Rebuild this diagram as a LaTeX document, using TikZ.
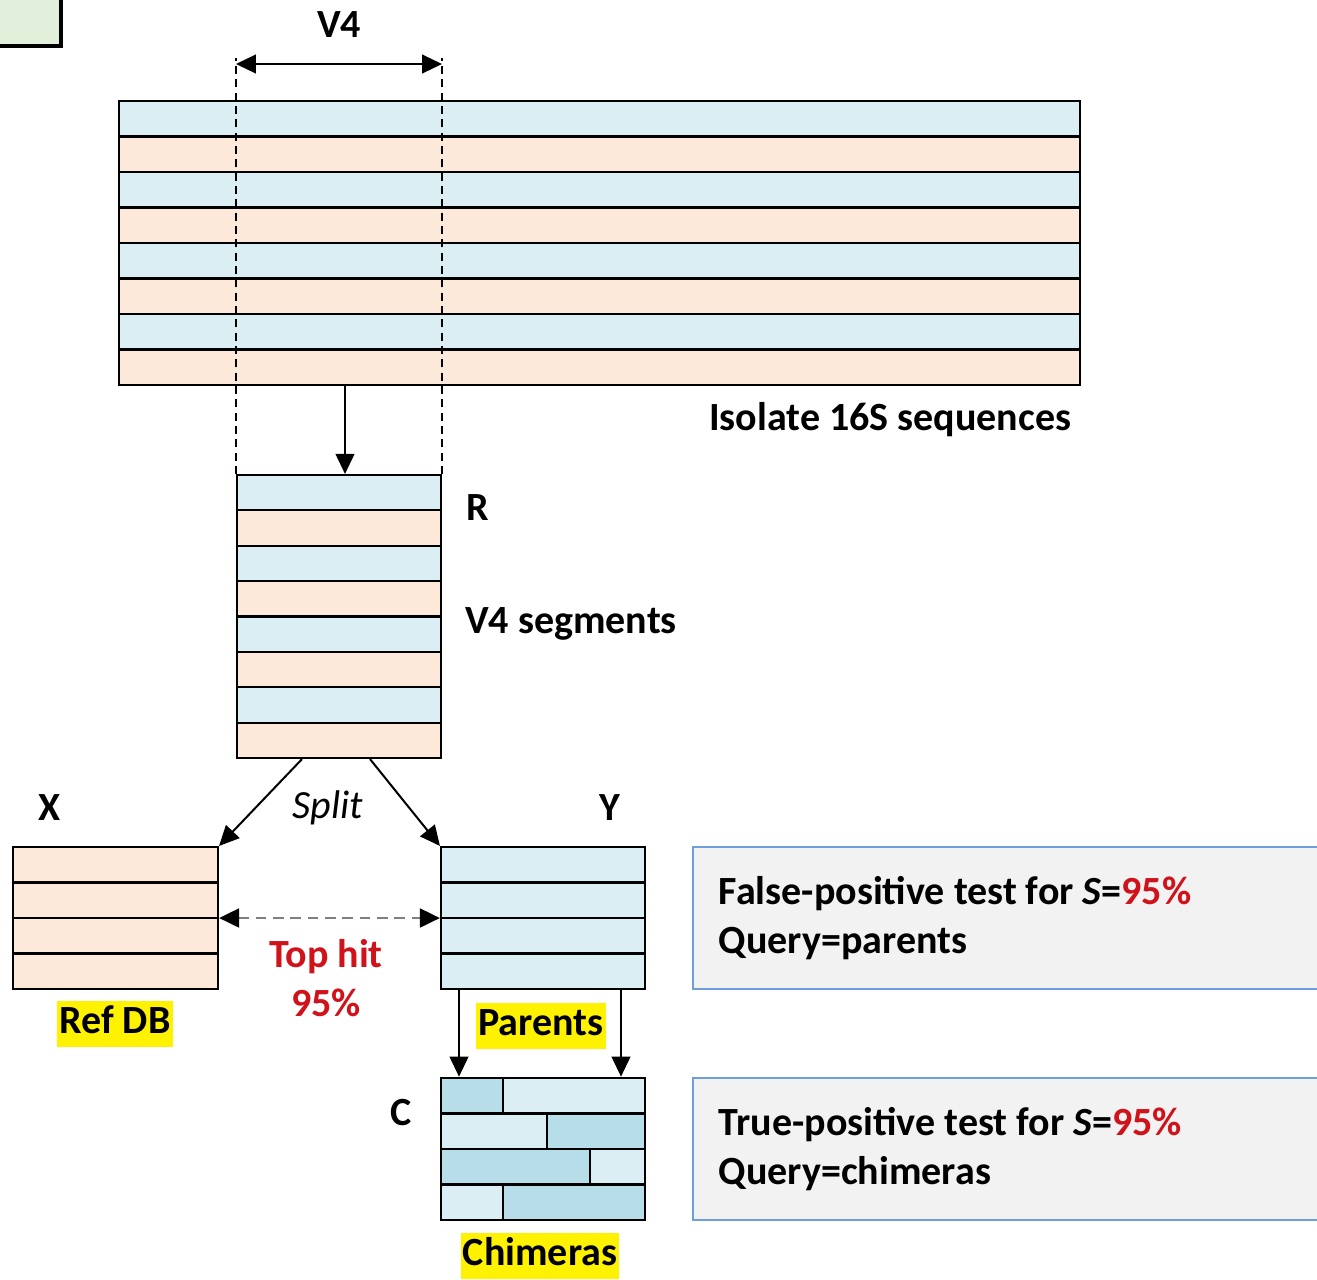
\documentclass[tikz,border=0pt]{standalone}
\usepackage{fontspec}
\setmainfont{Carlito}
\usetikzlibrary{arrows.meta,fit}
\definecolor{rowblue}{HTML}{DAEEF3}
\definecolor{rowpeach}{HTML}{FDE9D9}
\definecolor{chidark}{HTML}{B7DEE8}
\definecolor{boxgray}{HTML}{F2F2F2}
\definecolor{boxblue}{HTML}{6F9FD8}
\definecolor{hitred}{HTML}{D0121B}
\definecolor{greenbox}{HTML}{E2EFDA}
\definecolor{dashgray}{HTML}{7F7F7F}
\begin{document}
\begin{tikzpicture}[x=0.75pt,y=-0.75pt,
  every node/.style={font=\fontsize{30}{37}\selectfont\bfseries, inner sep=0pt},
  frame/.style={draw=black, line width=1.6pt, inner sep=0pt},
  rowline/.style={draw=black, line width=1.6pt},
  arr/.style={line width=1.5pt, -{Triangle[length=15pt,width=14pt]}},
  darr/.style={line width=1.5pt, {Triangle[length=15pt,width=14pt]}-{Triangle[length=15pt,width=14pt]}},
  guide/.style={line width=2pt, dash pattern=on 6pt off 4pt},
  hitarr/.style={draw=dashgray, line width=2.2pt, dash pattern=on 8pt off 5pt,
     {Triangle[length=15pt,width=14pt,color=black]}-{Triangle[length=15pt,width=14pt,color=black]}},
  hl/.style={fill=yellow, inner xsep=1.5pt, inner ysep=2.25pt, text height=22pt, text depth=7.5pt},
  infobox/.style={draw=boxblue, line width=1.5pt, fill=boxgray, inner sep=0pt}
]
\useasboundingbox (0,0) rectangle (1317,1279);

% corner box
\node[fit={(-20,-20) (61,46)}, draw=black, line width=3pt, fill=greenbox, inner sep=0pt] (corner) {};

% big block rows
\foreach \i/\c in {0/rowblue,1/rowpeach,2/rowblue,3/rowpeach,4/rowblue,5/rowpeach,6/rowblue,7/rowpeach}
  \draw[rowline, fill=\c] (119,{101+35.5*\i}) rectangle (1080,{101+35.5*(\i+1)});
\node[frame, fit={(119,101) (1080,385)}] (big) {};

% R block rows
\foreach \i/\c in {0/rowblue,1/rowpeach,2/rowblue,3/rowpeach,4/rowblue,5/rowpeach,6/rowblue,7/rowpeach}
  \draw[rowline, fill=\c] (237,{475+35.375*\i}) rectangle (441,{475+35.375*(\i+1)});
\node[frame, fit={(237,475) (441,758)}] (R) {};

% X block
\foreach \i in {0,1,2,3}
  \draw[rowline, fill=rowpeach] (13,{847+35.5*\i}) rectangle (218,{847+35.5*(\i+1)});
\node[frame, fit={(13,847) (218,989)}] (X) {};

% Y block
\foreach \i in {0,1,2,3}
  \draw[rowline, fill=rowblue] (441,{847+35.5*\i}) rectangle (645,{847+35.5*(\i+1)});
\node[frame, fit={(441,847) (645,989)}] (Y) {};

% C block (chimeras)
\draw[rowline, line width=2pt, fill=chidark] (441,1078) rectangle (503,1113.5);
\draw[rowline, line width=2pt, fill=rowblue] (503,1078) rectangle (645,1113.5);
\draw[rowline, line width=2pt, fill=rowblue] (441,1113.5) rectangle (547,1149);
\draw[rowline, line width=2pt, fill=chidark] (547,1113.5) rectangle (645,1149);
\draw[rowline, line width=2pt, fill=chidark] (441,1149) rectangle (590,1184.5);
\draw[rowline, line width=2pt, fill=rowblue] (590,1149) rectangle (645,1184.5);
\draw[rowline, line width=2pt, fill=rowblue] (441,1184.5) rectangle (503,1220);
\draw[rowline, line width=2pt, fill=chidark] (503,1184.5) rectangle (645,1220);
\node[frame, line width=2pt, fit={(441,1078) (645,1220)}] (C) {};

% guides and V4 span
\draw[guide] (R.north west) -- (R.north west |- 0,58);
\draw[guide] (R.north east) -- (R.north east |- 0,58);
\draw[darr] (R.west |- 0,64) -- (R.east |- 0,64);
\node (v4) at (339,25) {V4};

% connectors
\draw[arr] (big.south -| 345,0) -- (R.north -| 345,0);
\draw[arr] (R.south -| 302,0) -- (X.north east);
\draw[arr] (R.south -| 370,0) -- (Y.north west);
\draw[hitarr] (X.east) -- (Y.west);
\draw[arr] (Y.south -| 459,0) -- (C.north -| 459,0);
\draw[arr] (Y.south -| 621,0) -- (C.north -| 621,0);

% labels
\node[anchor=west] (iso) at (709,420) {Isolate 16S sequences};
\node (rlab) at (478,508) {R};
\node[anchor=west] (seg) at (465,624) {V4 segments};
\node (xlab) at (50,808) {X};
\node (ylab) at (610,808) {Y};
\node[font=\fontsize{30}{37}\selectfont\itshape] (split) at (328,808) {Split};
\node[text=hitred, align=center] (hit) at (326,978) {Top hit\\95\%};
\node[hl] (refdb) at (115,1024) {Ref DB};
\node[hl] (par) at (541,1026) {Parents};
\node (clab) at (401,1113) {C};
\node[hl] (chi) at (540,1256) {Chimeras};

% info boxes
\node[infobox, fit={(693,847) (1330,989)}] (fp) {};
\node[anchor=west, align=left] (fptext) at ([xshift=20pt]fp.west) {False-positive test for \textit{S}=\textcolor{hitred}{95\%}\\Query=parents};
\node[infobox, fit={(693,1078) (1330,1220)}] (tp) {};
\node[anchor=west, align=left] (tptext) at ([xshift=20pt]tp.west) {True-positive test for \textit{S}=\textcolor{hitred}{95\%}\\Query=chimeras};
\end{tikzpicture}
\end{document}
